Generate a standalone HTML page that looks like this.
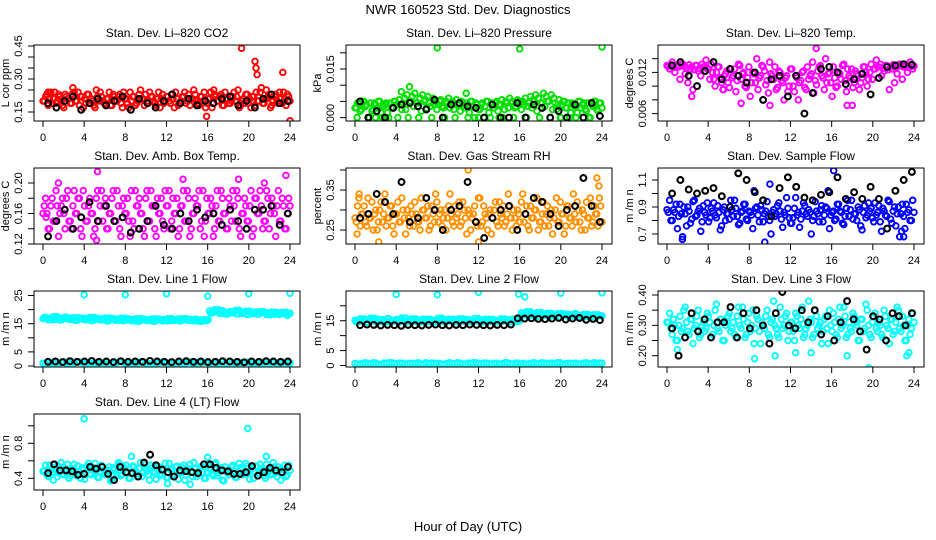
<!DOCTYPE html>
<html><head><meta charset="utf-8"><style>
html,body{margin:0;padding:0;background:#fff;}
svg{display:block;font-family:"Liberation Sans",sans-serif;}
</style></head><body>
<svg id="chart" width="936" height="540" viewBox="0 0 936 540" xmlns="http://www.w3.org/2000/svg">
<text x="468" y="14" font-size="13" text-anchor="middle">NWR  160523  Std. Dev. Diagnostics</text>
<text x="468" y="531" font-size="13" text-anchor="middle">Hour of Day (UTC)</text>
</svg>
<script>
const hourTicks = [0,4,8,12,16,20,24];

const co2Main = [0.20,0.22,0.18,0.24,0.21,0.19,0.23,0.20,0.17,0.22,0.21,0.19,0.24,0.20,0.18,0.22,0.21,0.23,0.19,0.20,0.17,0.22,0.24,0.20,0.19,0.21,0.18,0.23,0.20,0.22,0.19,0.24,0.21,0.17,0.20,0.22,0.19,0.23,0.21,0.18,0.20,0.24,0.22,0.19,0.21,0.17,0.23,0.20,0.22,0.19,0.21,0.24,0.18,0.20,0.22,0.19,0.23,0.21,0.25,0.20,0.18,0.22,0.24,0.19,0.21,0.17,0.23,0.20,0.22,0.18,0.24,0.21,0.19,0.22,0.20,0.25,0.18,0.21,0.23,0.19,0.17,0.22,0.24,0.20,0.26,0.19,0.21,0.23,0.18,0.22,0.20,0.24,0.19,0.21,0.23,0.20];
const co2ExtraT = [0.5,2.8,15.9,16.6,19.3,20.6,20.7,20.8,21.7,23.3,24.0];
const co2ExtraV = [0.24,0.23,0.13,0.25,0.44,0.38,0.35,0.32,0.25,0.33,0.11];
const co2Black = [0.19,0.17,0.20,0.22,0.16,0.19,0.21,0.18,0.20,0.22,0.16,0.21,0.19,0.17,0.20,0.23,0.19,0.21,0.18,0.20,0.19,0.21,0.22,0.18,0.20,0.17,0.21,0.23,0.19,0.20];

const pressMain = [0.0030,0.0045,0.0020,0.0050,0.0035,0.0000,0.0045,0.0025,0.0040,0.0050,0.0015,0.0035,0.0045,0.0000,0.0030,0.0050,0.0040,0.0055,0.0025,0.0060,0.0070,0.0050,0.0065,0.0075,0.0045,0.0060,0.0070,0.0055,0.0065,0.0035,0.0060,0.0050,0.0040,0.0055,0.0030,0.0050,0.0060,0.0045,0.0025,0.0055,0.0040,0.0050,0.0030,0.0045,0.0015,0.0050,0.0000,0.0040,0.0025,0.0045,0.0035,0.0050,0.0000,0.0030,0.0045,0.0020,0.0040,0.0000,0.0050,0.0030,0.0045,0.0000,0.0035,0.0050,0.0025,0.0040,0.0000,0.0045,0.0030,0.0050,0.0020,0.0000,0.0045,0.0035,0.0050,0.0000,0.0025,0.0045,0.0040,0.0000,0.0050,0.0030,0.0045,0.0015,0.0040,0.0000,0.0050,0.0030,0.0045,0.0020,0.0000,0.0040,0.0050,0.0025,0.0045,0.0030];
const pressExtraT = [8.0,16.0,24.0,5.3,4.5,10.8,0.2,2.0,3.0,12.0,14.0,20.0];
const pressExtraV = [0.0215,0.0212,0.0218,0.0095,0.0080,0.0075,0.0000,0.0000,0.0000,0.0000,0.0000,0.0000];
const pressBlack = [0.0050,0.0000,0.0020,0.0000,0.0030,0.0040,0.0045,0.0035,0.0025,0.0055,0.0000,0.0040,0.0045,0.0035,0.0030,0.0000,0.0040,0.0000,0.0000,0.0045,0.0000,0.0040,0.0030,0.0000,0.0020,0.0000,0.0040,0.0000,0.0045,0.0005];

const tempMain = [0.0130,0.0125,0.0135,0.0120,0.0128,0.0110,0.0132,0.0118,0.0105,0.0125,0.0095,0.0130,0.0122,0.0115,0.0128,0.0138,0.0125,0.0132,0.0110,0.0120,0.0128,0.0105,0.0115,0.0122,0.0098,0.0112,0.0125,0.0108,0.0130,0.0118,0.0100,0.0112,0.0085,0.0120,0.0105,0.0095,0.0115,0.0128,0.0102,0.0090,0.0118,0.0110,0.0095,0.0122,0.0108,0.0080,0.0115,0.0100,0.0125,0.0092,0.0112,0.0105,0.0120,0.0098,0.0128,0.0115,0.0135,0.0108,0.0122,0.0130,0.0112,0.0140,0.0118,0.0105,0.0128,0.0098,0.0120,0.0110,0.0132,0.0092,0.0115,0.0125,0.0105,0.0118,0.0095,0.0112,0.0128,0.0100,0.0120,0.0110,0.0125,0.0128,0.0132,0.0126,0.0130,0.0124,0.0128,0.0131,0.0127,0.0129,0.0132,0.0128,0.0130,0.0127,0.0131,0.0129];
const tempExtraT = [11.0,14.5,7.2,10.0,17.5,18.0,2.4,5.5];
const tempExtraV = [0.0045,0.0155,0.0075,0.0072,0.0072,0.0072,0.0085,0.0095];
const tempBlack = [0.0130,0.0135,0.0115,0.0100,0.0122,0.0135,0.0110,0.0125,0.0115,0.0105,0.0120,0.0080,0.0110,0.0115,0.0085,0.0115,0.0060,0.0090,0.0125,0.0128,0.0120,0.0103,0.0110,0.0118,0.0088,0.0112,0.0128,0.0130,0.0132,0.0131];

const ambMain = [0.16,0.18,0.14,0.17,0.15,0.19,0.13,0.17,0.16,0.18,0.15,0.14,0.19,0.16,0.18,0.13,0.17,0.15,0.18,0.16,0.14,0.19,0.17,0.15,0.18,0.14,0.16,0.19,0.15,0.17,0.13,0.18,0.16,0.15,0.19,0.14,0.17,0.18,0.16,0.13,0.19,0.15,0.17,0.14,0.18,0.16,0.15,0.19,0.17,0.14,0.18,0.16,0.13,0.17,0.19,0.15,0.18,0.14,0.16,0.17,0.19,0.15,0.13,0.18,0.16,0.17,0.14,0.19,0.15,0.18,0.16,0.14,0.17,0.19,0.15,0.18,0.13,0.16,0.17,0.15,0.19,0.14,0.18,0.16,0.17,0.15,0.19,0.14,0.18,0.16,0.17,0.15,0.18,0.14,0.16,0.17];
const ambExtraT = [5.3,5.2,23.6,1.5,19.0,13.6,21.5,0.3];
const ambExtraV = [0.215,0.125,0.210,0.200,0.205,0.205,0.200,0.155];
const ambBlack = [0.13,0.15,0.165,0.14,0.155,0.175,0.15,0.17,0.15,0.155,0.135,0.14,0.15,0.17,0.145,0.14,0.16,0.15,0.165,0.155,0.16,0.145,0.165,0.15,0.14,0.165,0.165,0.17,0.145,0.16];

const rhMain = [0.28,0.31,0.26,0.29,0.27,0.33,0.28,0.25,0.30,0.27,0.32,0.29,0.26,0.28,0.31,0.24,0.29,0.27,0.33,0.28,0.30,0.26,0.29,0.32,0.27,0.25,0.30,0.28,0.31,0.26,0.29,0.34,0.27,0.30,0.28,0.25,0.31,0.29,0.26,0.28,0.32,0.27,0.30,0.24,0.29,0.28,0.31,0.26,0.33,0.27,0.29,0.25,0.30,0.28,0.32,0.26,0.29,0.31,0.27,0.34,0.28,0.30,0.26,0.29,0.32,0.27,0.31,0.25,0.28,0.30,0.33,0.27,0.29,0.26,0.31,0.28,0.24,0.30,0.27,0.32,0.29,0.26,0.31,0.28,0.34,0.27,0.30,0.25,0.29,0.32,0.28,0.26,0.31,0.29,0.33,0.27];
const rhExtraT = [11.0,2.3,12.0,23.5,23.7,0.2,0.4];
const rhExtraV = [0.40,0.22,0.22,0.38,0.36,0.24,0.34];
const rhBlack = [0.28,0.29,0.34,0.32,0.29,0.37,0.27,0.28,0.33,0.30,0.25,0.30,0.31,0.37,0.27,0.23,0.28,0.30,0.31,0.25,0.29,0.33,0.32,0.29,0.26,0.30,0.31,0.38,0.31,0.27];

const flowMain = [0.88,0.95,0.80,0.86,0.74,0.92,0.68,0.85,0.90,0.78,0.94,0.83,0.87,0.72,0.91,0.84,0.79,0.89,0.93,0.82,0.86,0.76,0.90,0.85,0.81,0.88,0.95,0.83,0.78,0.87,0.92,0.80,0.86,0.74,0.89,0.84,0.91,0.79,0.87,0.83,0.70,0.88,0.85,0.93,0.81,0.86,0.97,0.82,0.78,0.89,0.84,0.75,0.87,0.91,0.83,0.86,0.80,0.94,0.85,0.88,0.79,0.90,1.02,0.84,0.87,0.81,0.92,0.86,0.77,0.89,0.83,0.95,0.85,0.80,0.88,0.73,0.91,0.84,0.87,0.82,0.93,0.86,0.79,0.89,0.84,0.95,0.81,0.87,0.76,0.90,0.85,0.83,0.92,0.88,0.80,0.86];
const flowExtraT = [1.5,16.2,9.5,23.0,22.8,10.0];
const flowExtraV = [0.66,1.17,0.64,0.68,0.72,1.07];
const flowBlack = [1.00,1.10,1.03,1.00,1.02,1.04,0.98,0.90,1.15,1.10,1.01,0.95,0.83,1.04,1.12,1.05,0.97,0.95,0.99,1.01,1.12,0.96,1.01,0.96,1.05,0.96,0.74,1.02,1.10,1.16];

const l1Main = [16.8,17.2,16.4,16.9,17.5,16.6,17.0,16.3,16.8,17.3,16.5,16.9,17.1,16.2,16.7,17.0,16.4,16.8,17.2,16.1,16.6,16.9,16.3,16.7,17.0,16.0,16.5,16.8,16.2,16.6,16.9,16.1,16.4,16.7,16.0,16.5,16.8,15.9,16.3,16.6,16.1,16.4,16.7,15.9,16.3,16.6,16.0,16.4,16.8,16.1,16.5,16.2,16.7,16.0,16.4,16.8,16.2,16.5,16.0,16.6,16.3,15.8,16.4,16.1,19.5,18.8,19.9,19.2,18.6,19.6,19.0,18.4,19.3,18.9,19.7,18.5,19.1,18.7,19.4,18.3,19.0,18.6,19.2,18.4,18.9,19.3,18.2,18.8,19.1,18.5,18.9,18.3,19.0,18.6,17.9,18.7];
const l1Low = [1.0,0.7,1.3,0.9,1.5,0.8,1.1,1.4,0.6,1.2,1.0,0.9,1.3,0.7,1.1,1.5,0.8,1.2,1.0,1.4,0.9,0.6,1.1,1.3,0.8,1.0,1.2,0.7,1.4,0.9,1.1,1.3,0.8,1.0,1.5,0.7,1.2,0.9,1.1,1.3,0.8,1.0,1.4,0.6,1.2,0.9,1.1,1.0];
const l1ExtraT = [4.0,8.0,12.0,16.0,20.0,24.0];
const l1ExtraV = [25.2,25.3,25.6,24.8,25.6,25.8];
const l1Black = [1.5,1.6,1.4,1.7,1.5,1.6,1.8,1.5,1.6,1.4,1.7,1.5,1.6,1.5,1.8,1.6,1.5,1.4,1.6,1.7,1.5,1.6,1.4,1.5,1.7,1.6,1.5,1.3,1.6,1.5,1.7,1.6,1.5,1.6];

const l2Main = [15.2,14.6,15.6,14.9,15.4,14.5,15.8,15.0,14.7,15.5,14.9,15.3,14.6,15.7,15.1,14.8,15.4,14.6,15.9,15.0,14.7,15.3,15.6,14.8,15.2,14.5,15.5,15.0,14.7,15.4,15.1,14.6,15.8,14.9,15.3,14.7,15.5,15.0,14.6,15.3,15.6,14.8,15.1,15.4,14.7,15.2,15.7,14.9,15.3,14.6,15.5,15.0,14.8,15.4,15.1,14.7,15.6,15.0,14.9,15.3,14.6,15.5,15.2,14.8,17.6,17.0,18.0,16.6,17.3,16.8,17.7,16.5,17.2,16.9,17.5,16.4,17.1,16.7,17.4,16.3,16.9,17.2,16.5,17.0,16.6,17.3,16.2,16.8,17.1,16.4,16.9,16.3,17.0,16.5,16.7,16.6];
const l2Low = [0.7,0.5,0.9,0.6,0.8,0.4,0.7,0.9,0.5,0.8,0.6,0.7,0.9,0.5,0.6,0.8,0.7,0.4,0.9,0.6,0.8,0.5,0.7,0.9,0.6,0.8,0.5,0.7,0.6,0.9,0.4,0.8,0.7,0.5,0.9,0.6,0.8,0.7,0.5,0.9,0.6,0.7,0.8,0.5,0.9,0.6,0.7,0.8];
const l2ExtraT = [4.0,8.0,12.0,15.9,16.5,20.0,24.0,18.2];
const l2ExtraV = [23.8,23.7,24.5,23.9,23.0,24.2,24.3,17.5];
const l2Black = [13.5,13.7,13.6,13.4,13.6,13.5,13.3,13.6,13.5,13.4,13.6,13.7,13.5,13.4,13.6,13.5,13.7,13.6,13.5,13.4,13.6,13.5,13.7,15.8,15.7,15.8,15.6,15.5,15.7,15.9,15.4,15.7,15.9,15.3,15.6,15.2];

const l3Main = [0.31,0.34,0.27,0.30,0.25,0.33,0.29,0.36,0.28,0.32,0.24,0.30,0.35,0.27,0.31,0.29,0.33,0.26,0.30,0.37,0.28,0.32,0.25,0.31,0.34,0.29,0.27,0.33,0.30,0.36,0.26,0.31,0.28,0.35,0.29,0.32,0.24,0.30,0.33,0.27,0.31,0.38,0.29,0.26,0.32,0.30,0.34,0.28,0.31,0.25,0.33,0.29,0.36,0.27,0.30,0.32,0.26,0.35,0.29,0.31,0.28,0.33,0.24,0.30,0.34,0.27,0.32,0.29,0.36,0.26,0.31,0.28,0.33,0.30,0.25,0.32,0.29,0.35,0.27,0.31,0.34,0.28,0.30,0.26,0.33,0.29,0.32,0.27,0.31,0.35,0.28,0.30,0.25,0.32,0.29,0.31];
const l3ExtraT = [1.0,8.5,10.5,12.5,17.5,19.6,23.3,23.5,14.0];
const l3ExtraV = [0.22,0.19,0.20,0.21,0.20,0.16,0.20,0.21,0.21];
const l3Black = [0.29,0.20,0.26,0.34,0.28,0.32,0.26,0.31,0.31,0.36,0.26,0.34,0.29,0.35,0.30,0.24,0.34,0.41,0.30,0.29,0.35,0.31,0.35,0.27,0.33,0.25,0.31,0.38,0.32,0.28,0.22,0.33,0.32,0.25,0.34,0.33,0.30,0.34];

const l4Main = [0.48,0.55,0.42,0.50,0.38,0.53,0.46,0.58,0.44,0.51,0.40,0.49,0.56,0.43,0.47,0.52,0.39,0.54,0.45,0.50,0.57,0.41,0.48,0.53,0.44,0.49,0.37,0.52,0.46,0.58,0.43,0.50,0.55,0.40,0.47,0.53,0.45,0.51,0.42,0.56,0.48,0.38,0.52,0.46,0.54,0.43,0.49,0.57,0.41,0.50,0.45,0.53,0.39,0.48,0.55,0.44,0.51,0.47,0.58,0.42,0.49,0.54,0.40,0.47,0.52,0.45,0.56,0.43,0.50,0.38,0.53,0.46,0.49,0.55,0.41,0.48,0.52,0.44,0.57,0.47,0.50,0.40,0.54,0.46,0.51,0.43,0.56,0.48,0.45,0.53,0.42,0.50,0.47,0.55,0.44,0.49];
const l4ExtraT = [4.0,12.0,19.9,12.1,14.3,8.6,16.0,21.7];
const l4ExtraV = [1.08,1.36,0.97,0.34,0.33,0.65,0.64,0.65];
const l4Black = [0.46,0.56,0.49,0.49,0.48,0.44,0.45,0.53,0.51,0.53,0.45,0.38,0.53,0.47,0.46,0.42,0.58,0.67,0.55,0.50,0.47,0.42,0.49,0.48,0.47,0.46,0.56,0.56,0.52,0.49,0.48,0.45,0.45,0.47,0.54,0.43,0.47,0.52,0.49,0.47,0.53];

const panels = [
 {name:'co2',title:'Stan. Dev. Li\u2013820 CO2',ylab:'L cor ppm',col:0,row:0,vA:0.45,pA:46,vB:0.15,pB:112,ticks:[0.15,0.20,0.25,0.30,0.35,0.40,0.45],labels:{'0.15':'0.15','0.3':'0.30','0.45':'0.45'},color:'#ff0000',main:co2Main,exT:co2ExtraT,exV:co2ExtraV,black:co2Black},
 {name:'pressure',title:'Stan. Dev. Li\u2013820 Pressure',ylab:'kPa',col:1,row:0,vA:0.015,pA:69,vB:0,pB:117.6,ticks:[0,0.005,0.01,0.015,0.02],labels:{'0':'0.000','0.015':'0.015'},color:'#00e000',main:pressMain,exT:pressExtraT,exV:pressExtraV,black:pressBlack},
 {name:'temp',title:'Stan. Dev. Li\u2013820 Temp.',ylab:'degrees C',col:2,row:0,vA:0.012,pA:72.4,vB:0.006,pB:113.6,ticks:[0.006,0.008,0.010,0.012,0.014],labels:{'0.006':'0.006','0.012':'0.012'},color:'#ff00ff',main:tempMain,exT:tempExtraT,exV:tempExtraV,black:tempBlack},
 {name:'amb-box-temp',title:'Stan. Dev. Amb. Box Temp.',ylab:'degrees C',col:0,row:1,vA:0.20,pA:183,vB:0.12,pB:244,ticks:[0.12,0.14,0.16,0.18,0.20],labels:{'0.12':'0.12','0.16':'0.16','0.2':'0.20'},color:'#ff00ff',main:ambMain,exT:ambExtraT,exV:ambExtraV,black:ambBlack},
 {name:'gas-stream-rh',title:'Stan. Dev. Gas Stream RH',ylab:'percent',col:1,row:1,vA:0.35,pA:190,vB:0.25,pB:230,ticks:[0.25,0.30,0.35,0.40],labels:{'0.25':'0.25','0.35':'0.35'},color:'#ff9000',main:rhMain,exT:rhExtraT,exV:rhExtraV,black:rhBlack},
 {name:'sample-flow',title:'Stan. Dev. Sample Flow',ylab:'m /m n',col:2,row:1,vA:1.1,pA:180,vB:0.7,pB:234,ticks:[0.7,0.8,0.9,1.0,1.1],labels:{'0.7':'0.7','0.9':'0.9','1.1':'1.1'},color:'#0000ff',main:flowMain,exT:flowExtraT,exV:flowExtraV,black:flowBlack},
 {name:'line1-flow',title:'Stan. Dev. Line 1 Flow',ylab:'m /m n',col:0,row:2,vA:25,pA:295.5,vB:0,pB:366,ticks:[0,5,10,15,20,25],labels:{'0':'0','5':'5','15':'15','25':'25'},color:'#00ffff',main:l1Main,low:l1Low,step:true,exT:l1ExtraT,exV:l1ExtraV,black:l1Black},
 {name:'line2-flow',title:'Stan. Dev. Line 2 Flow',ylab:'m /m n',col:1,row:2,vA:15,pA:320.7,vB:0,pB:365.5,ticks:[0,5,10,15,20],labels:{'0':'0','5':'5','15':'15'},color:'#00ffff',main:l2Main,low:l2Low,step:true,exT:l2ExtraT,exV:l2ExtraV,black:l2Black},
 {name:'line3-flow',title:'Stan. Dev. Line 3 Flow',ylab:'m /m n',col:2,row:2,vA:0.40,pA:295,vB:0.20,pB:355.7,ticks:[0.20,0.25,0.30,0.35,0.40],labels:{'0.2':'0.20','0.3':'0.30','0.4':'0.40'},color:'#00ffff',main:l3Main,exT:l3ExtraT,exV:l3ExtraV,black:l3Black},
 {name:'line4-flow',title:'Stan. Dev. Line 4 (LT) Flow',ylab:'m /m n',col:0,row:3,vA:0.8,pA:443.3,vB:0.4,pB:478.3,ticks:[0.4,0.6,0.8,1.0],labels:{'0.4':'0.4','0.8':'0.8'},color:'#00ffff',main:l4Main,exT:l4ExtraT,exV:l4ExtraV,black:l4Black}
];

const NS = 'http://www.w3.org/2000/svg';
const svg = document.getElementById('chart');
function mk(tag, attrs, parent){
  const e = document.createElementNS(NS, tag);
  for (const k in attrs) e.setAttribute(k, attrs[k]);
  (parent||svg).appendChild(e);
  return e;
}

panels.forEach(p => {
  const left = 34 + 312*p.col, right = 300 + 312*p.col;
  const top = 45 + 123*p.row, bottom = top + 76;
  const xScale = h => (left + 9) + h * ((right - 10) - (left + 9)) / 24;
  const yScale = v => p.pA + (v - p.vA) * (p.pB - p.pA) / (p.vB - p.vA);

  const g = mk('g', {});
  
  

  const title = mk('text', {x:(left+right)/2, y:top-8, 'font-size':12, 'text-anchor':'middle'}, g);
  title.textContent = p.title;
  
  

  const yl = mk('text', {x:0, y:0, 'font-size':11, 'text-anchor':'middle', transform:`translate(${left-25},${(top+bottom)/2}) rotate(-90)`}, g);
  yl.textContent = p.ylab;
  
  

  const clip = mk('clipPath', {id:'clip-'+p.name}, g);
  mk('rect', {x:left, y:top, width:right-left, height:bottom-top}, clip);
  const pts = mk('g', {'clip-path':`url(#clip-${p.name})`, fill:'none'}, g);
  
  

  const drawPt = (h, v, color, black) => {
    const c = mk('circle', {cx:xScale(h).toFixed(1), cy:yScale(v).toFixed(1), r: black?2.9:2.8, stroke:color, 'stroke-width': black?2.1:1.9}, pts);
    
    
  };
  const drawSeries = arr => {
    const n = arr.length, step = 24/(n-1);
    arr.forEach((v,i) => drawPt(i*step, v, p.color, false));
    // second pass at half-step offsets (values re-ordered) to mimic the dense 5-min sampling
    arr.forEach((v,i) => {
      const h = i*step + step/2;
      if (h > 24) return;
      const j = p.step ? Math.min(i ^ 1, n-1) : n-1-i;
      drawPt(h, arr[j], p.color, false);
    });
  };
  if (p.low) drawSeries(p.low);
  drawSeries(p.main);
  p.exT.forEach((h,i) => drawPt(h, p.exV[i], p.color, false));
  p.black.forEach((v,i) => drawPt(0.5 + i*23.3/(p.black.length-1), v, '#000', true));

  const box = mk('rect', {x:left, y:top, width:right-left, height:bottom-top, fill:'none', stroke:'#000', 'stroke-width':1}, g);
  
  

  hourTicks.forEach(h => {
    const x = xScale(h);
    mk('line', {x1:x, x2:x, y1:bottom, y2:bottom+6, stroke:'#000'}, g);
    const t = mk('text', {x:x, y:bottom+20, 'font-size':11, 'text-anchor':'middle'}, g);
    t.textContent = h;
    
    
  });
  p.ticks.forEach(v => {
    const y = yScale(v);
    if (y < top - 0.5 || y > bottom + 0.5) return;
    mk('line', {x1:left-6, x2:left, y1:y, y2:y, stroke:'#000'}, g);
    const key = String(+v.toFixed(4));
    if (p.labels[key] !== undefined) {
      const t = mk('text', {x:0, y:0, 'font-size':11, 'text-anchor':'middle', transform:`translate(${left-12},${y}) rotate(-90)`}, g);
      t.textContent = p.labels[key];
      
      
    }
  });
});
</script>
</body></html>
